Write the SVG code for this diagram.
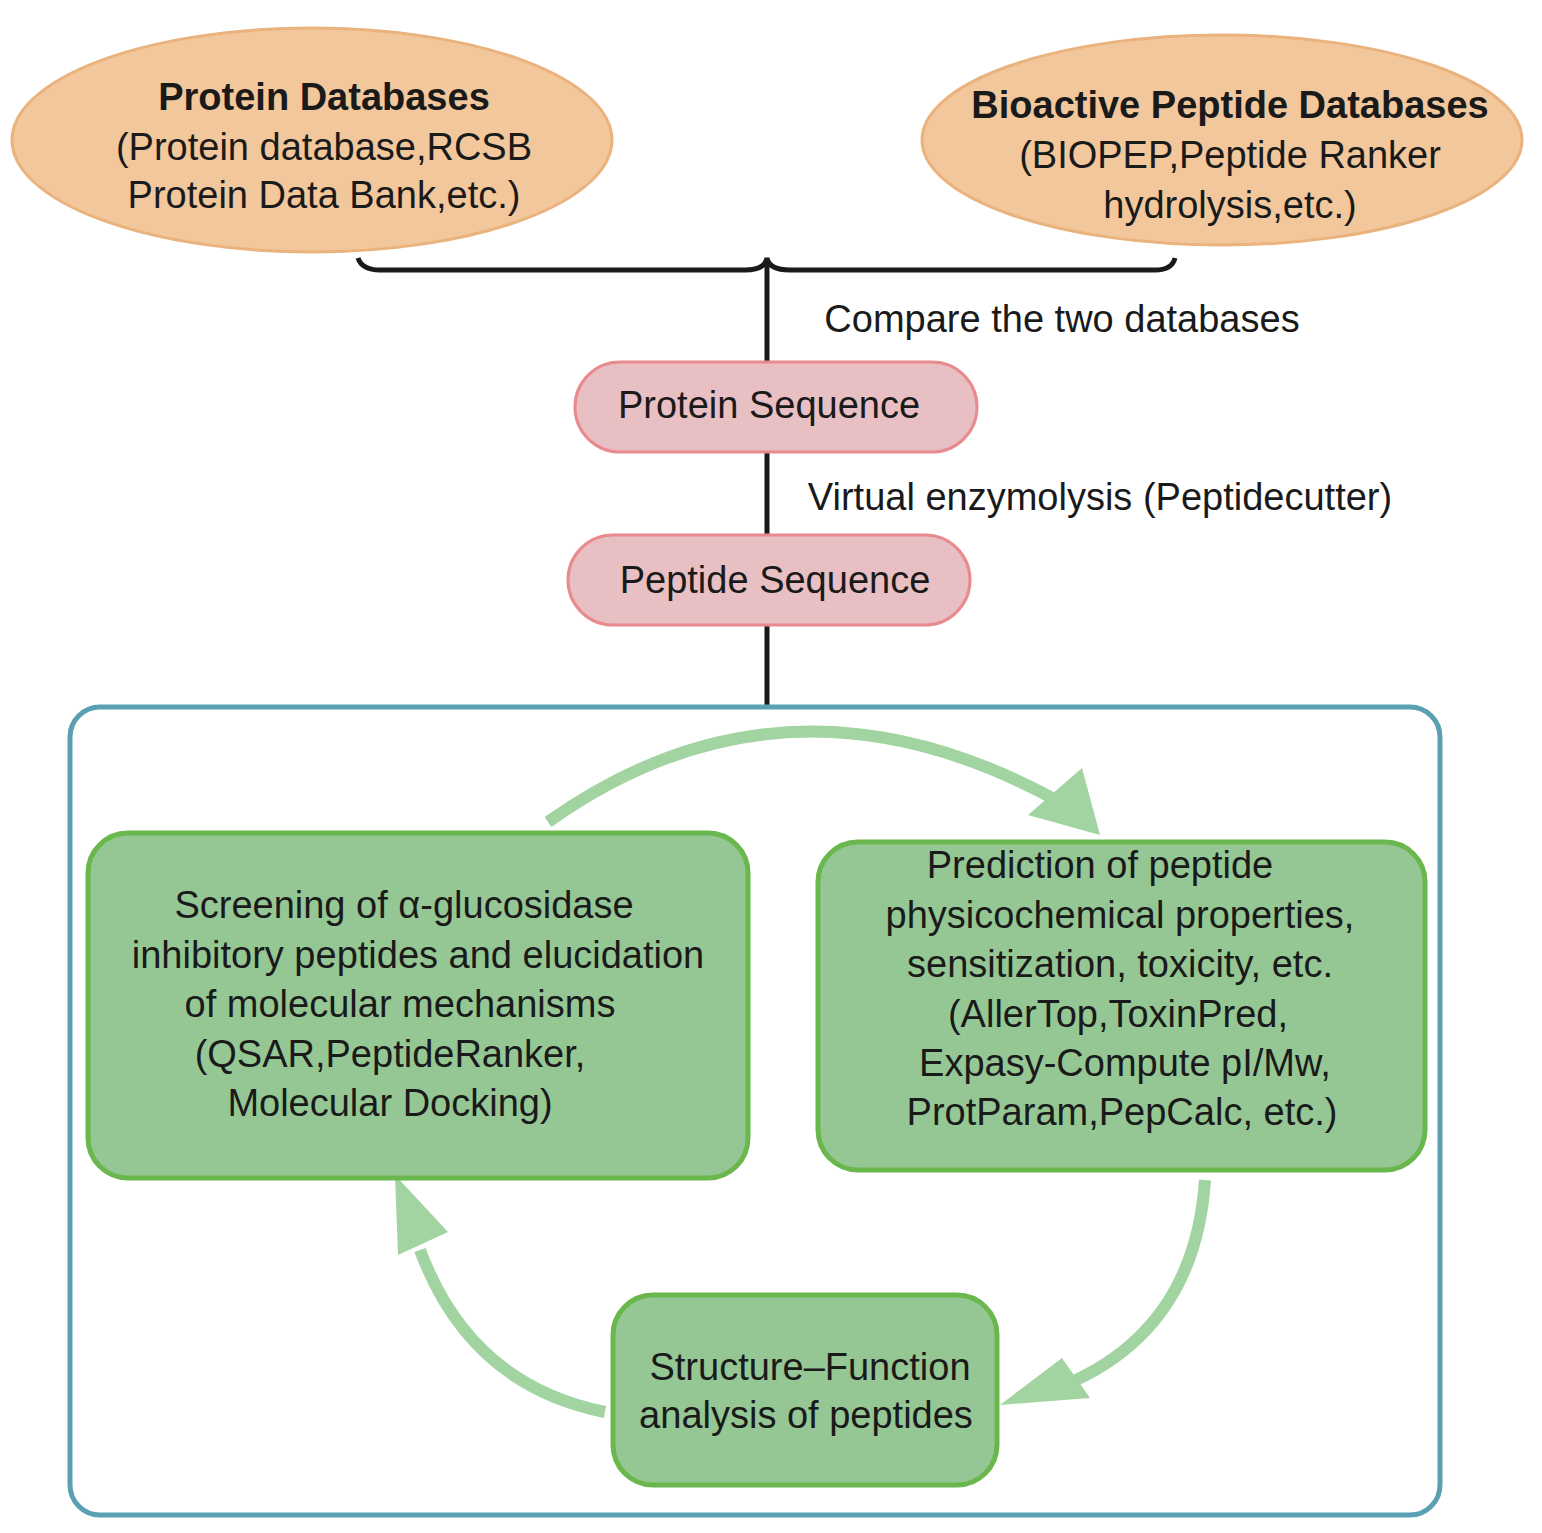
<svg xmlns="http://www.w3.org/2000/svg" width="1542" height="1533" viewBox="0 0 1542 1533">
<style>
text{font-family:"Liberation Sans",Arial,sans-serif;font-size:38px;fill:#1a1a1a;text-anchor:middle}
.b{font-weight:bold}
.db{fill:#f2c79b;stroke:#eab27c;stroke-width:3}
.seq{fill:#e8bfc2;stroke:#e88a8e;stroke-width:3}
.g{fill:#95c794;stroke:#6ab74e;stroke-width:5}
.arc{fill:none;stroke:#a2d4a2;stroke-width:12}
.hd{fill:#a2d4a2}
</style>
<rect width="1542" height="1533" fill="#fff"/>
<g id="protein-db"><ellipse class="db" cx="312" cy="140" rx="300" ry="112"/>
<text class="b" x="324" y="110">Protein Databases</text>
<text x="324" y="160">(Protein database,RCSB</text>
<text x="324" y="208">Protein Data Bank,etc.)</text></g>
<g id="peptide-db"><ellipse class="db" cx="1222" cy="140" rx="300" ry="105"/>
<text class="b" x="1230" y="118">Bioactive  Peptide Databases</text>
<text x="1230" y="168">(BIOPEP,Peptide Ranker</text>
<text x="1230" y="218">hydrolysis,etc.)</text></g>
<g id="connectors" fill="none" stroke="#1a1a1a" stroke-width="5">
<path d="M358,258 Q362,270 380,270 L745,270 Q765,270 767,258 Q769,270 790,270 L1155,270 Q1172,270 1175,258"/>
<line x1="767" y1="262" x2="767" y2="362"/>
<line x1="767" y1="452" x2="767" y2="535"/>
<line x1="767" y1="625" x2="767" y2="707"/>
<path class="arc" d="M548,822 Q790,650 1065,805"/>
<polygon class="hd" stroke="none" points="1100,835 1028,815 1082,768"/>
<path class="arc" d="M1205,1180 Q1195,1330 1065,1385"/>
<polygon class="hd" stroke="none" points="1000,1405 1062,1358 1090,1398"/>
<path class="arc" d="M605,1412 Q470,1385 420,1250"/>
<polygon class="hd" stroke="none" points="395,1175 398,1255 448,1232"/>
</g>
<text x="1062" y="332" style="text-anchor:middle">Compare the two databases</text>
<text x="1100" y="510">Virtual enzymolysis (Peptidecutter)</text>
<g id="protein-seq"><rect class="seq" x="575" y="362" width="402" height="90" rx="45"/>
<text x="769" y="418">Protein Sequence</text></g>
<g id="peptide-seq"><rect class="seq" x="568" y="535" width="402" height="90" rx="45"/>
<text x="775" y="593">Peptide Sequence</text></g>
<rect id="frame" x="70" y="707" width="1370" height="808" rx="30" fill="none" stroke="#5b9fb3" stroke-width="5"/>
<g id="screening"><rect class="g" x="88" y="833" width="660" height="345" rx="40"/>
<text x="404" y="918">Screening of α-glucosidase</text>
<text x="418" y="968">inhibitory peptides and elucidation</text>
<text x="400" y="1017">of molecular mechanisms</text>
<text x="390" y="1067">(QSAR,PeptideRanker,</text>
<text x="390" y="1116">Molecular Docking)</text></g>
<g id="prediction"><rect class="g" x="818" y="842" width="607" height="328" rx="40"/>
<text x="1100" y="878">Prediction of peptide</text>
<text x="1120" y="928">physicochemical properties,</text>
<text x="1120" y="977">sensitization, toxicity, etc.</text>
<text x="1118" y="1027">(AllerTop,ToxinPred,</text>
<text x="1125" y="1076">Expasy-Compute pI/Mw,</text>
<text x="1122" y="1125">ProtParam,PepCalc, etc.)</text></g>
<g id="structure"><rect class="g" x="613" y="1295" width="384" height="190" rx="40"/>
<text x="810" y="1380">Structure–Function</text>
<text x="806" y="1428">analysis of peptides</text></g>
</svg>
